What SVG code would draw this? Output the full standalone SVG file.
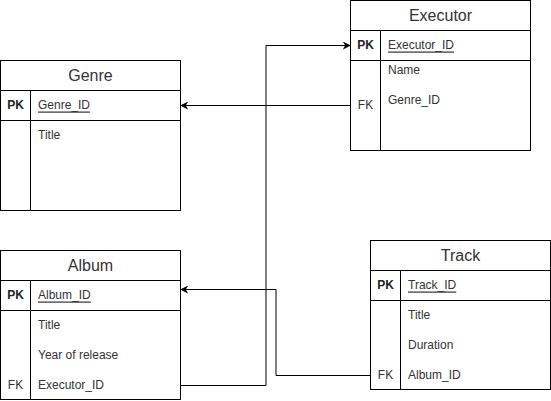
<svg xmlns="http://www.w3.org/2000/svg" width="551" height="401" viewBox="0 0 551 401">
  <defs>
    <marker id="arrow" viewBox="0 0 10 10" refX="9" refY="5" markerWidth="8" markerHeight="8" markerUnits="userSpaceOnUse" orient="auto">
      <path d="M0,0 L10,5 L0,10 L3,5 Z" fill="#000"/>
    </marker>
  </defs>
  <style>
    .box { fill: #fff; stroke: #000; stroke-width: 1; }
    .ln { stroke: #000; stroke-width: 1; fill: none; }
    .title { font-family: "Liberation Sans", Arial, sans-serif; font-size: 16px; fill: #333; text-anchor: middle; dominant-baseline: central; }
    .key { font-family: "Liberation Sans", Arial, sans-serif; font-size: 12px; font-weight: bold; fill: #222; text-anchor: middle; dominant-baseline: central; }
    .fk { font-family: "Liberation Sans", Arial, sans-serif; font-size: 12px; fill: #333; text-anchor: middle; dominant-baseline: central; }
    .field { font-family: "Liberation Sans", Arial, sans-serif; font-size: 12px; fill: #333; dominant-baseline: central; }
    .pk { text-decoration: underline; }
    .edge { stroke: #000; stroke-width: 1; fill: none; }
  </style>

  <rect width="551" height="401" fill="#fff"/>

  <!-- Executor -->
  <g id="executor">
    <rect class="box" x="350.5" y="0.5" width="180" height="150"/>
    <path class="ln" d="M350.5,30.5 H530.5 M350.5,60.5 H530.5 M380.5,30.5 V150.5"/>
    <text class="title" x="440.5" y="15">Executor</text>
    <text class="key" x="365.5" y="44.5">PK</text>
    <text class="field pk" x="388" y="44.5">Executor_ID</text>
    <text class="field" x="388" y="69.5">Name</text>
    <text class="fk" x="365.5" y="104.5">FK</text>
    <text class="field" x="388" y="99.5">Genre_ID</text>
  </g>

  <!-- Genre -->
  <g id="genre">
    <rect class="box" x="0.5" y="60.5" width="180" height="150"/>
    <path class="ln" d="M0.5,90.5 H180.5 M0.5,120.5 H180.5 M30.5,90.5 V210.5"/>
    <text class="title" x="90.5" y="75">Genre</text>
    <text class="key" x="15.5" y="104.5">PK</text>
    <text class="field pk" x="38" y="104.5">Genre_ID</text>
    <text class="field" x="38" y="134.5">Title</text>
  </g>

  <!-- Album -->
  <g id="album">
    <rect class="box" x="0.5" y="250.5" width="180" height="149"/>
    <path class="ln" d="M0.5,280.5 H180.5 M0.5,310.5 H180.5 M30.5,280.5 V399.5"/>
    <text class="title" x="90.5" y="265">Album</text>
    <text class="key" x="15.5" y="294.5">PK</text>
    <text class="field pk" x="38" y="294.5">Album_ID</text>
    <text class="field" x="38" y="324.5">Title</text>
    <text class="field" x="38" y="354.5">Year of release</text>
    <text class="fk" x="15.5" y="384.5">FK</text>
    <text class="field" x="38" y="384.5">Executor_ID</text>
  </g>

  <!-- Track -->
  <g id="track">
    <rect class="box" x="370.5" y="240.5" width="180" height="149"/>
    <path class="ln" d="M370.5,270.5 H550.5 M370.5,300.5 H550.5 M400.5,270.5 V389.5"/>
    <text class="title" x="460.5" y="255">Track</text>
    <text class="key" x="385.5" y="284.5">PK</text>
    <text class="field pk" x="408" y="284.5">Track_ID</text>
    <text class="field" x="408" y="314.5">Title</text>
    <text class="field" x="408" y="344.5">Duration</text>
    <text class="fk" x="385.5" y="374.5">FK</text>
    <text class="field" x="408" y="374.5">Album_ID</text>
  </g>

  <!-- Relations -->
  <g id="connectors">
    <path class="edge" d="M350.5,105.5 H181" marker-end="url(#arrow)"/>
    <path class="edge" d="M180.5,385.5 H266 V45.5 H350" marker-end="url(#arrow)"/>
    <path class="edge" d="M370.5,375.5 H276 V289.5 H181" marker-end="url(#arrow)"/>
  </g>
</svg>
